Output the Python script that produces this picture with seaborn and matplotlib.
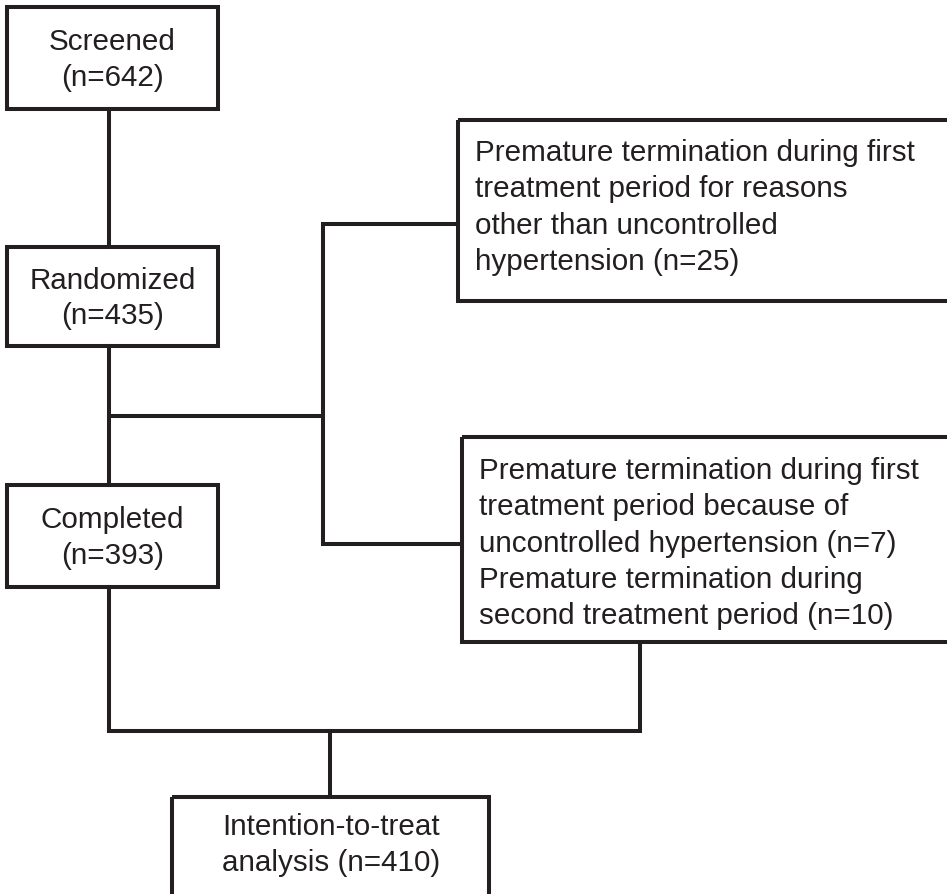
import matplotlib
matplotlib.use("Agg")
import matplotlib.pyplot as plt
import matplotlib.patches as mpatches
import pandas as pd
import seaborn as sns

# Flow data
stages = ["Screened", "Randomized", "Completed"]
stage_n = [642, 435, 393]
excl_top = ["Premature termination during first",
            "treatment period for reasons",
            "other than uncontrolled",
            "hypertension (n=25)"]
excl_bottom = ["Premature termination during first",
               "treatment period because of",
               "uncontrolled hypertension (n=7)",
               "Premature termination during",
               "second treatment period (n=10)"]
itt_label = ["Intention-to-treat", "analysis"]
itt_n = 410

# Layout (pixel space, y grows downward)
W, H = 947, 895
left_boxes = [(7, 8, 218, 110), (7, 248, 218, 347), (7, 486, 218, 588)]
top_box = (458, 121, 965, 302)
bot_box = (462, 438, 965, 643)
itt_box = (172, 798, 489, 905)
ink = "#231f20"
lw = 2.9
fs = 21.3

sns.set_theme(style="white")
plt.rcParams['font.family'] = ['Liberation Sans', 'DejaVu Sans']

fig = plt.figure(figsize=(W / 100, H / 100), dpi=100)
ax = fig.add_axes([0, 0, 1, 1])
ax.set_xlim(0, W)
ax.set_ylim(H, 0)
ax.axis("off")


def box(b):
    x0, y0, x1, y1 = b
    ax.add_patch(mpatches.Rectangle((x0, y0), x1 - x0, y1 - y0, fill=False,
                                    edgecolor=ink, linewidth=lw, joinstyle="miter"))


def link(xs, ys):
    seg = pd.DataFrame({"x": xs, "y": ys})
    sns.lineplot(data=seg, x="x", y="y", sort=False, estimator=None, ax=ax,
                 color=ink, linewidth=lw, solid_capstyle="projecting",
                 solid_joinstyle="miter")


# Left column boxes
for b, name, n in zip(left_boxes, stages, stage_n):
    box(b)
    ax.text((b[0] + b[2]) / 2, (b[1] + b[3]) / 2 + 1, f"{name}\n(n={n})",
            ha="center", va="center", fontsize=fs, color=ink, linespacing=1.32)

# Exclusion boxes
for b, lines, dy in [(top_box, excl_top, -4), (bot_box, excl_bottom, 3)]:
    box(b)
    ax.text(b[0] + 17, (b[1] + b[3]) / 2 + dy, "\n".join(lines),
            ha="left", va="center", fontsize=fs, color=ink, linespacing=1.37)

# ITT box
box(itt_box)
ax.text(331, 845, f"{itt_label[0]}\n{itt_label[1]} (n={itt_n})",
        ha="center", va="center", fontsize=fs, color=ink, linespacing=1.32)

# Connectors
cx = 109
link([cx, cx], [110, 248])
link([cx, cx], [347, 486])
link([cx, 323], [417, 417])
link([458, 323, 323, 462], [225, 225, 545, 545])
link([cx, cx, 640, 640], [588, 732, 732, 643])
link([330, 330], [732, 798])

ax.set_xlim(0, W)
ax.set_ylim(H, 0)
ax.axis("off")
fig.savefig("out.png", dpi=100)
